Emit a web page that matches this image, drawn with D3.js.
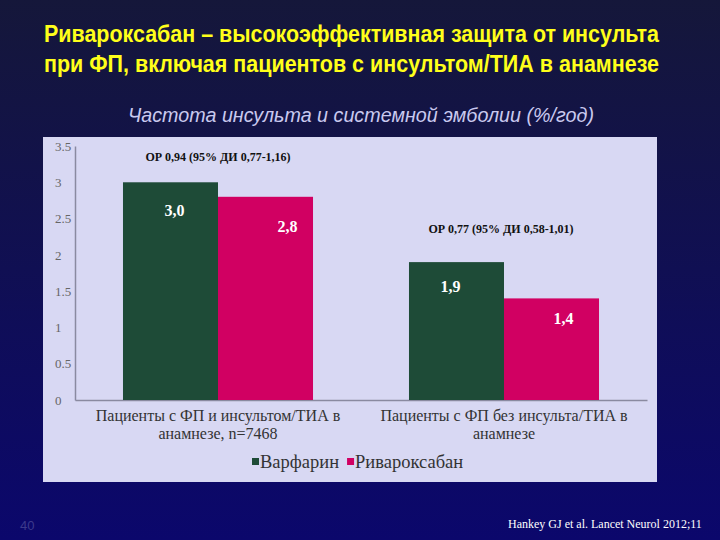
<!DOCTYPE html>
<html><head><meta charset="utf-8">
<script src="https://cdn.jsdelivr.net/npm/d3@7"></script>
<style>body{margin:0;background:#0b0a5e}svg{display:block}</style>
</head><body>
<script>
const categories = ["Пациенты с ФП и инсультом/ТИА в|анамнезе, n=7468", "Пациенты с ФП без инсульта/ТИА в|анамнезе"];
const seriesNames = ["Варфарин", "Ривароксабан"];
const warfarin = [3.0, 1.9];
const rivaroxaban = [2.8, 1.4];
const valueLabels = [["3,0", "1,9"], ["2,8", "1,4"]];
const orLabels = ["ОР 0,94 (95% ДИ 0,77-1,16)", "ОР 0,77 (95% ДИ 0,58-1,01)"];
const orValues = [3.3, 2.3];
const yTicks = [0, 0.5, 1, 1.5, 2, 2.5, 3, 3.5];
const colors = ["#1e4b37", "#d10062"];

const W = 720, H = 540;
const svg = d3.select("body").append("svg").attr("width", W).attr("height", H);
const defs = svg.append("defs");
const g = defs.append("linearGradient").attr("id", "bg").attr("x1", 0).attr("y1", 0).attr("x2", 0).attr("y2", 1);
g.append("stop").attr("offset", "0%").attr("stop-color", "#15173a");
g.append("stop").attr("offset", "100%").attr("stop-color", "#0b076c");
svg.append("rect").attr("width", W).attr("height", H).attr("fill", "url(#bg)");

// Title
const titleFont = "'Liberation Sans Narrow','Arial Narrow','Liberation Sans',Arial,sans-serif";
[["Ривароксабан – высокоэффективная защита от инсульта", 42], ["при ФП, включая пациентов с инсультом/ТИА в анамнезе", 72]].forEach(([t, y]) => {
  svg.append("text").attr("x", 44).attr("y", y).text(t)
    .attr("fill", "#ffff1a").attr("font-family", titleFont).attr("font-weight", "bold").attr("font-size", 23)
    .attr("textLength", 615).attr("lengthAdjust", "spacingAndGlyphs");
});
svg.append("text").attr("x", 128).attr("y", 122).text("Частота инсульта и системной эмболии (%/год)")
  .attr("fill", "#c9c9ef").attr("font-family", titleFont).attr("font-style", "italic").attr("font-size", 20)
  .attr("textLength", 466).attr("lengthAdjust", "spacingAndGlyphs");

// Panel
svg.append("rect").attr("x", 43).attr("y", 137).attr("width", 614).attr("height", 345).attr("fill", "#d8d8f3");

const serif = "'Liberation Serif','Times New Roman',serif";
const y = d3.scaleLinear().domain([0, 3.5]).range([400, 146]);
const x = d3.scaleBand().domain(categories).range([75, 647]).paddingInner(0).paddingOuter(0);
const xs = d3.scaleBand().domain(seriesNames).range([0, x.bandwidth()]).paddingInner(0).paddingOuter(0.505);

// axes
const yAxis = svg.append("g").attr("transform", "translate(75,0)")
  .call(d3.axisLeft(y).tickValues(yTicks).tickSize(0).tickFormat(d3.format("")));
yAxis.select(".domain").attr("stroke", "#8a8aa0").attr("stroke-width", 1.5);
yAxis.selectAll("text").attr("font-family", serif).attr("font-size", 13).attr("fill", "#666")
  .attr("text-anchor", "start").attr("x", -20);

const xAxis = svg.append("g").attr("transform", "translate(0,400)")
  .call(d3.axisBottom(x).tickSize(0).tickFormat(""));
xAxis.select(".domain").attr("stroke", "#8a8aa0").attr("stroke-width", 1.5);

// bars
const seriesData = [warfarin, rivaroxaban];
const labelDx = [[4, -6], [22, 12]];
const labelDy = [[34, 30], [35, 26]];
seriesData.forEach((vals, si) => {
  const s = seriesNames[si];
  svg.append("g").selectAll("rect").data(vals).join("rect")
    .attr("x", (d, i) => x(categories[i]) + xs(s))
    .attr("y", d => y(d))
    .attr("width", xs.bandwidth())
    .attr("height", d => y(0) - y(d))
    .attr("fill", colors[si]);
  svg.append("g").selectAll("text").data(vals).join("text")
    .attr("x", (d, i) => x(categories[i]) + xs(s) + xs.bandwidth() / 2 + labelDx[si][i])
    .attr("y", (d, i) => y(d) + labelDy[si][i])
    .attr("text-anchor", "middle").attr("font-family", serif).attr("font-weight", "bold")
    .attr("font-size", 16).attr("fill", "#fff").text((d, i) => valueLabels[si][i]);
});

// OR annotations
svg.append("g").selectAll("text").data(orLabels).join("text")
  .attr("x", (d, i) => x(categories[i]) + x.bandwidth() / 2 - (i ? 3 : 0))
  .attr("y", (d, i) => y(orValues[i]))
  .attr("text-anchor", "middle").attr("font-family", serif).attr("font-weight", "bold")
  .attr("font-size", 12).attr("fill", "#111").text(d => d);

// category labels
categories.forEach(c => {
  const lines = c.split("|");
  const t = svg.append("text").attr("text-anchor", "middle").attr("font-family", serif)
    .attr("font-size", 16).attr("fill", "#333");
  lines.forEach((l, k) => t.append("tspan").attr("x", x(c) + x.bandwidth() / 2).attr("y", 421 + k * 18).text(l));
});

// legend
const leg = svg.append("g").attr("transform", "translate(252,468)");
let lx = 0;
seriesNames.forEach((s, i) => {
  leg.append("rect").attr("x", lx).attr("y", -10).attr("width", 7).attr("height", 7).attr("fill", colors[i]);
  const t = leg.append("text").attr("x", lx + 8).attr("y", 0).attr("font-family", serif).attr("font-size", 18.5)
    .attr("fill", "#333").text(s);
  lx += 8 + t.node().getComputedTextLength() + 8;
});

// footer
svg.append("text").attr("x", 508).attr("y", 528).text("Hankey GJ et al. Lancet Neurol 2012;11")
  .attr("fill", "#fff").attr("font-family", serif).attr("font-size", 12);
svg.append("text").attr("x", 20).attr("y", 530).text("40")
  .attr("fill", "#3c3a8c").attr("font-family", "'Liberation Sans',Arial,sans-serif").attr("font-size", 13);
</script>
</body></html>
